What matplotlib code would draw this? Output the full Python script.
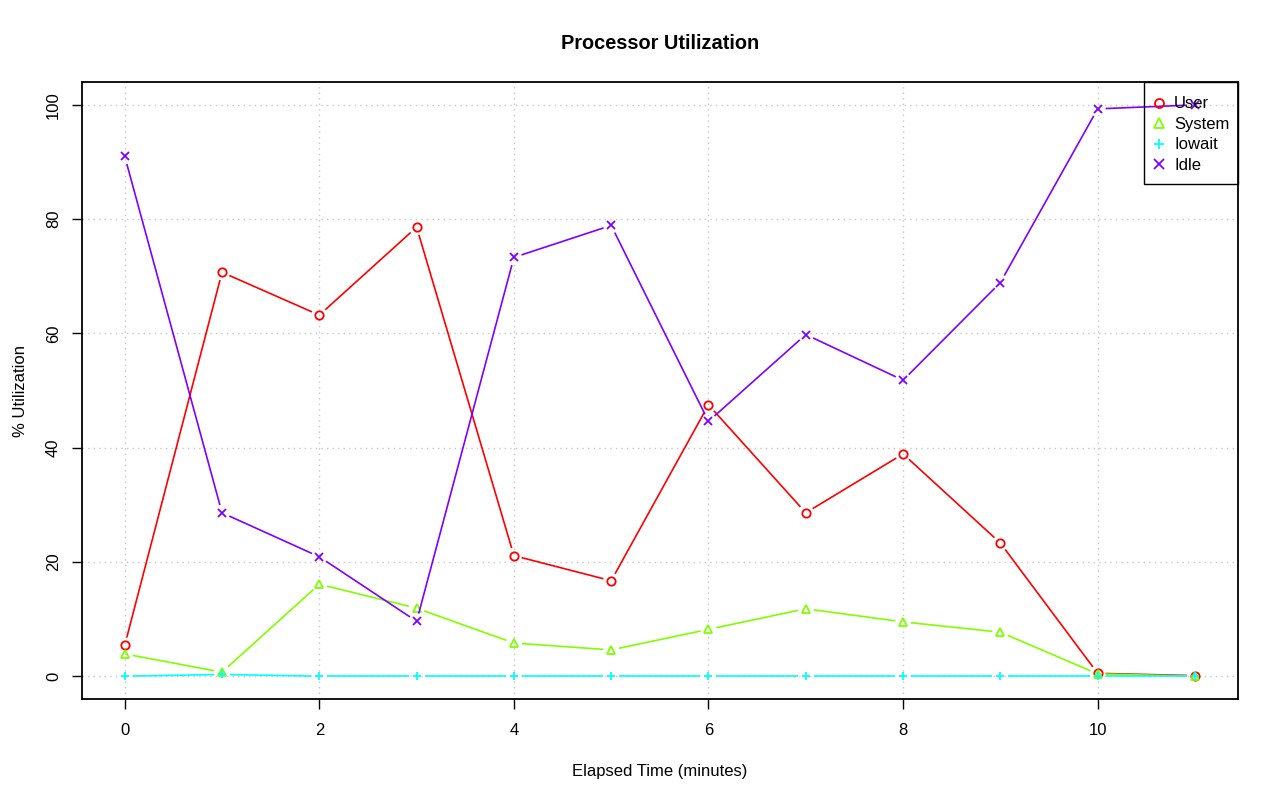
import numpy as np
import matplotlib
matplotlib.use("Agg")
import matplotlib.pyplot as plt
from matplotlib.lines import Line2D
from matplotlib.patches import Rectangle
from matplotlib.transforms import offset_copy

plt.rcParams['font.family'] = ['Liberation Sans', 'DejaVu Sans']

# Data
minutes = [0, 1, 2, 3, 4, 5, 6, 7, 8, 9, 10, 11]
user = [5.4, 70.7, 63.2, 78.6, 21.1, 16.7, 47.5, 28.6, 38.9, 23.3, 0.5, 0.1]
system = [3.9, 0.7, 16.1, 11.9, 5.8, 4.6, 8.2, 11.8, 9.5, 7.7, 0.4, 0.0]
iowait = [0.0, 0.3, 0.0, 0.0, 0.0, 0.0, 0.0, 0.0, 0.0, 0.0, 0.0, 0.0]
idle = [91.0, 28.6, 20.9, 9.6, 73.3, 78.9, 44.6, 59.8, 51.8, 68.9, 99.3, 100.0]

series_names = ["User", "System", "Iowait", "Idle"]
series_values = [user, system, iowait, idle]
colors = ["#FF0000", "#80FF00", "#00FFFF", "#8000FF"]
markers = ["o", "^", "+", "x"]

fig = plt.figure(figsize=(12.8, 8.01), dpi=100)
ax = fig.add_axes([0.064, 0.1273, 0.903, 0.7703])
ax.set_xlim(-0.44, 11.44)
ax.set_ylim(-4, 104)

ax.set_xticks([0, 2, 4, 6, 8, 10])
ax.set_yticks([0, 20, 40, 60, 80, 100])
ax.grid(True, color="#c8c8c8", linestyle=(0, (1, 3)), linewidth=1.0)
ax.set_axisbelow(True)

# R type="b": lines with gaps around the points
gap = 8.0  # pixels
fig.canvas.draw()
for vals, col, mk in zip(series_values, colors, markers):
    pts = ax.transData.transform(np.column_stack([minutes, vals]))
    for i in range(len(pts) - 1):
        p0, p1 = pts[i], pts[i + 1]
        d = p1 - p0
        L = np.hypot(*d)
        if L <= 2 * gap:
            continue
        u = d / L
        a = ax.transData.inverted().transform([p0 + u * gap, p1 - u * gap])
        ax.plot(a[:, 0], a[:, 1], color=col, linewidth=1.2, solid_capstyle="butt")
    ax.plot(minutes, vals, linestyle="none", marker=mk, markersize=6,
            markerfacecolor="none", markeredgecolor=col, markeredgewidth=1.3)

for s in ax.spines.values():
    s.set_linewidth(1.3)
ax.tick_params(direction="out", length=7, width=1.0, labelsize=12)
ax.tick_params(axis="x", pad=10)
ax.tick_params(axis="y", pad=8)
for lab in ax.get_yticklabels():
    lab.set_rotation(90)
    lab.set_va("center")

ax.set_title("Processor Utilization", fontsize=14.4, fontweight="bold", pad=24)
ax.set_xlabel("Elapsed Time (minutes)", fontsize=12, labelpad=19)
ax.set_ylabel("% Utilization", fontsize=12, labelpad=13)

handles = [Line2D([], [], linestyle="none", marker=mk, color=c, markersize=6.5,
                  markerfacecolor="none", markeredgewidth=1.3)
           for mk, c in zip(markers, colors)]
leg = ax.legend(handles, series_names, loc="upper right", bbox_to_anchor=(1.0, 1.0),
                bbox_transform=offset_copy(ax.transAxes, fig, y=-6, units="dots"),
                fontsize=12, frameon=False, handlelength=0.3,
                handletextpad=0.75, borderpad=0.5, labelspacing=0.33,
                borderaxespad=0)

# R-style legend box: flush with the top-right corner of the plot
fig.canvas.draw()
bb = leg.get_window_extent()
axbb = ax.get_window_extent()
x0, y0 = bb.x0 - 4, bb.y0 - 3
rect = Rectangle((x0, y0), axbb.x1 - x0, axbb.y1 - y0, transform=None,
                 facecolor="none", edgecolor="black", linewidth=1.0, zorder=6)
fig.add_artist(rect)

fig.savefig("out.png", dpi=100)
